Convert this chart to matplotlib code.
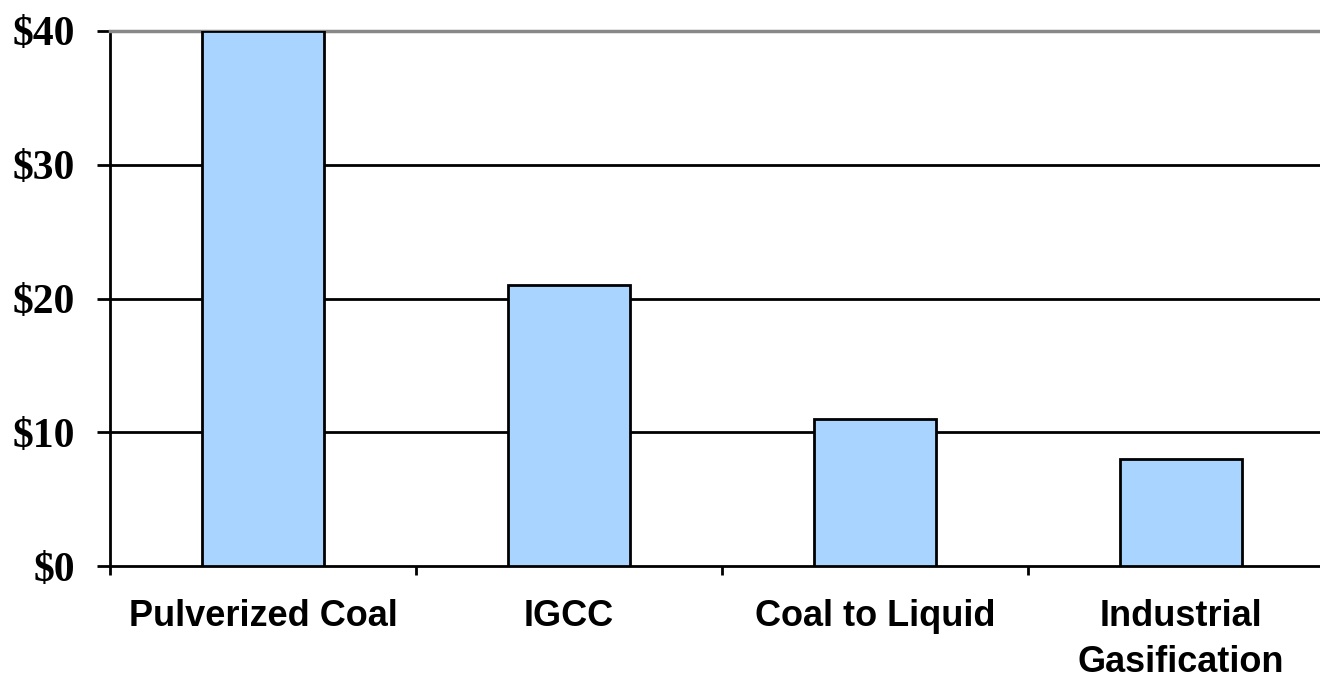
import matplotlib
matplotlib.use("Agg")
import matplotlib.pyplot as plt
import numpy as np

# Datos del grafico
categorias = ["Pulverized Coal", "IGCC", "Coal to Liquid", "Industrial\nGasification"]
valores = [40, 21, 11, 8]
ticks_y = [0, 10, 20, 30, 40]
etiquetas_y = ["$0", "$10", "$20", "$30", "$40"]

fig = plt.figure(figsize=(13.2, 6.78), dpi=100)
# el area de trazado se sale un poco por la derecha
ax = fig.add_axes([110 / 1320, 112 / 678, 1224 / 1320, 535 / 678])

x = np.arange(len(categorias))
ax.bar(x, valores, width=0.4, color="#A8D4FF", edgecolor="black", linewidth=2, zorder=3)

ax.set_xlim(-0.5, len(categorias) - 0.5)
ax.set_ylim(0, 40)

# lineas de cuadricula
for v in ticks_y[1:-1]:
    ax.axhline(v, color="black", linewidth=2, zorder=1)

ax.spines["right"].set_visible(False)
ax.spines["top"].set_color("#888888")
ax.spines["top"].set_linewidth(2.5)
ax.spines["left"].set_linewidth(2)
ax.spines["bottom"].set_linewidth(2)

ax.set_yticks(ticks_y)
ax.set_yticklabels(etiquetas_y, family="Liberation Serif", fontweight="bold", fontsize=30)
ax.tick_params(axis="y", direction="out", length=9.4, width=2, pad=16)

ax.set_xticks(x)
ax.set_xticklabels(categorias, family="Liberation Sans", fontweight="bold", fontsize=26,
                   linespacing=1.4)
ax.set_xticks(np.arange(len(categorias) + 1) - 0.5, minor=True)
ax.tick_params(axis="x", which="major", length=0, pad=24)
ax.tick_params(axis="x", which="minor", direction="out", length=6.5, width=2)

plt.savefig("out.png", dpi=100)
plt.close()
